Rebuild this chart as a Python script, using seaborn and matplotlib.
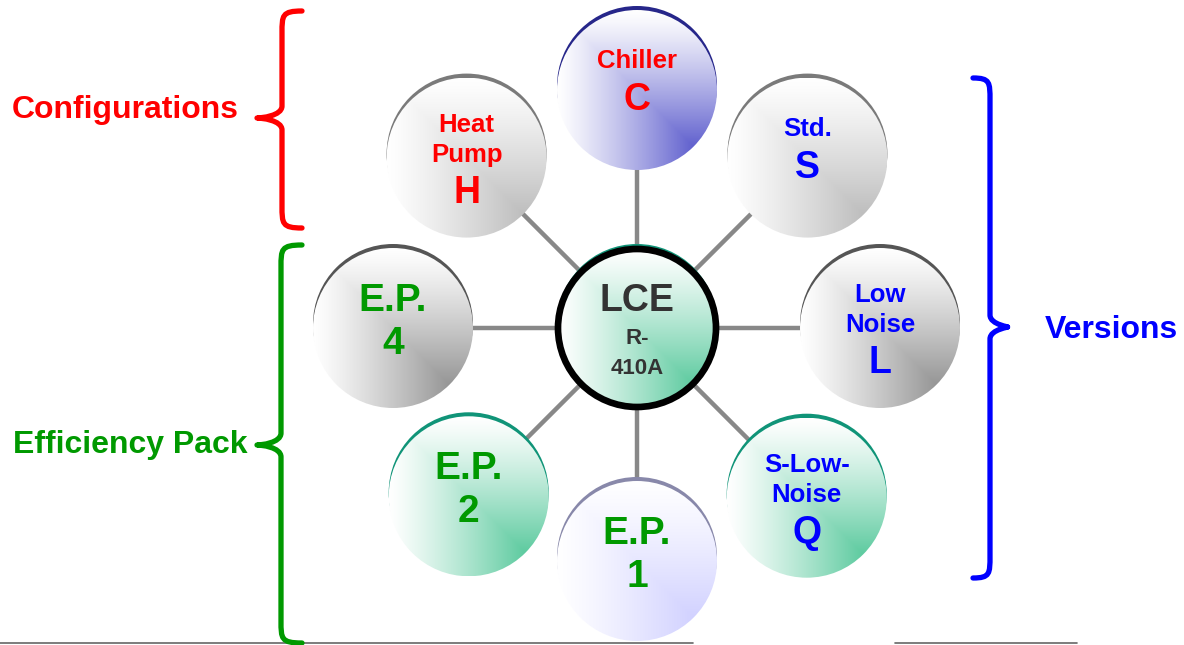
import numpy as np
import seaborn as sns
import matplotlib.pyplot as plt
import matplotlib.colors as mcolors
from matplotlib.patches import Circle, PathPatch
from matplotlib.path import Path

# 中心节点
hub_lines = ["LCE", "R-", "410A"]
hub_sizes = [27, 16, 16]

# 外围节点（从正上方顺时针）
node_labels = [
    ["Chiller", "C"],
    ["Std.", "S"],
    ["Low", "Noise", "L"],
    ["S-Low-", "Noise", "Q"],
    ["E.P.", "1"],
    ["E.P.", "2"],
    ["E.P.", "4"],
    ["Heat", "Pump", "H"],
]
node_angles = [90, 45, 0, -45, -90, -135, 180, 135]
node_dist = [238, 241, 243, 240, 233, 238, 244, 241]
node_text_colors = ["#ff0000", "#0000ff", "#0000ff", "#0000ff",
                    "#009900", "#009900", "#009900", "#ff0000"]
node_fill = ["#4040c4", "#b0b0b0", "#808080", "#3cc08c",
             "#c8c8ff", "#3cc08c", "#808080", "#b0b0b0"]
node_rim = ["#26268a", "#7a7a7a", "#555555", "#109478",
            "#8888aa", "#109478", "#555555", "#7a7a7a"]

# 分组括号
group_names = ["Configurations", "Efficiency Pack", "Versions"]
group_colors = ["#ff0000", "#009900", "#0000ff"]


def shaded_disc(ax, cx, cy, r, color, rim, power=1.2):
    ax.add_patch(Circle((cx, cy - 4), r, facecolor=rim, edgecolor="none", zorder=2))
    n = 256
    u = np.linspace(0, 1, n)
    U, V = np.meshgrid(u, u)
    t = np.minimum(U, V) ** power
    c0 = np.array([1.0, 1.0, 1.0])
    c1 = np.array(mcolors.to_rgb(color))
    img = c0 + (c1 - c0) * t[..., None]
    im = ax.imshow(img, extent=(cx - r, cx + r, cy + r, cy - r), origin="upper",
                   zorder=3, interpolation="bilinear")
    im.set_clip_path(Circle((cx, cy), r, transform=ax.transData))


def brace(ax, x_end, x_stem, x_tip, y0, y1, ym, color, k=22, kt=12):
    verts = [
        (x_end, y0),
        (x_stem, y0), (x_stem, y0 + k * 0.2), (x_stem, y0 + k),
        (x_stem, ym - kt),
        (x_stem, ym - 2), (x_tip + 4, ym), (x_tip, ym),
        (x_tip + 4, ym), (x_stem, ym + 2), (x_stem, ym + kt),
        (x_stem, y1 - k),
        (x_stem, y1 - k * 0.2), (x_stem, y1), (x_end, y1),
    ]
    codes = [Path.MOVETO,
             Path.CURVE4, Path.CURVE4, Path.CURVE4,
             Path.LINETO,
             Path.CURVE4, Path.CURVE4, Path.CURVE4,
             Path.CURVE4, Path.CURVE4, Path.CURVE4,
             Path.LINETO,
             Path.CURVE4, Path.CURVE4, Path.CURVE4]
    ax.add_patch(PathPatch(Path(verts, codes), facecolor="none", edgecolor=color,
                           lw=3.8, capstyle="round", joinstyle="round", zorder=2))


sns.set_theme(style="white")
plt.rcParams["font.family"] = ["Liberation Sans", "DejaVu Sans"]

fig = plt.figure(figsize=(11.84, 6.45), dpi=100)
ax = fig.add_axes([0, 0, 1, 1])

cx, cy = 637, 328
r_node = 80

# 连线 + 外围圆
for i, ang in enumerate(node_angles):
    a = np.deg2rad(ang)
    x = cx + node_dist[i] * np.cos(a)
    y = cy - node_dist[i] * np.sin(a)
    ax.plot([cx, x], [cy, y], color="#888888", lw=3.2, zorder=1, solid_capstyle="butt")
    shaded_disc(ax, x, y, r_node, node_fill[i], node_rim[i])
    lines = node_labels[i]
    col = node_text_colors[i]
    if lines[0] == "E.P.":
        ax.text(x, y - 27, lines[0], color=col, fontsize=28, fontweight="bold",
                ha="center", va="center", zorder=5)
        ax.text(x, y + 16, lines[1], color=col, fontsize=28, fontweight="bold",
                ha="center", va="center", zorder=5)
    elif len(lines) == 2:
        ax.text(x, y - 29, lines[0], color=col, fontsize=18.5, fontweight="bold",
                ha="center", va="center", zorder=5)
        ax.text(x, y + 10, lines[1], color=col, fontsize=27, fontweight="bold",
                ha="center", va="center", zorder=5)
    else:
        ax.text(x, y - 33, lines[0], color=col, fontsize=18.5, fontweight="bold",
                ha="center", va="center", zorder=5)
        ax.text(x, y - 3, lines[1], color=col, fontsize=18.5, fontweight="bold",
                ha="center", va="center", zorder=5)
        ax.text(x, y + 35, lines[2], color=col, fontsize=27, fontweight="bold",
                ha="center", va="center", zorder=5)

# 中心圆
shaded_disc(ax, cx, cy, 80, "#3cc08c", "#109478")
ax.add_patch(Circle((cx, cy), 79, facecolor="none", edgecolor="black", lw=4.8, zorder=4))
for txt, fs, dy in zip(hub_lines, hub_sizes, [-27, 10, 41]):
    ax.text(cx, cy + dy, txt, color="#333333", fontsize=fs, fontweight="bold",
            ha="center", va="center", zorder=5)

# 括号与分组标题
brace(ax, 302, 282, 257, 11, 228, 118, group_colors[0])
brace(ax, 302, 281, 257, 245, 643, 445, group_colors[1])
brace(ax, 973, 990, 1007, 78, 578, 327, group_colors[2])
ax.text(125, 110, group_names[0], color=group_colors[0], fontsize=23,
        fontweight="bold", ha="center", va="center")
ax.text(130, 445, group_names[1], color=group_colors[1], fontsize=23,
        fontweight="bold", ha="center", va="center")
ax.text(1111, 330, group_names[2], color=group_colors[2], fontsize=23,
        fontweight="bold", ha="center", va="center")

# 底部横线
ax.plot([0, 693], [643, 643], color="#666666", lw=1.2, zorder=1)
ax.plot([895, 1077], [643, 643], color="#666666", lw=1.2, zorder=1)

ax.set_xlim(0, 1184)
ax.set_ylim(645, 0)
ax.set_aspect("auto")
ax.axis("off")

fig.savefig("out.png", dpi=100)
plt.close(fig)
